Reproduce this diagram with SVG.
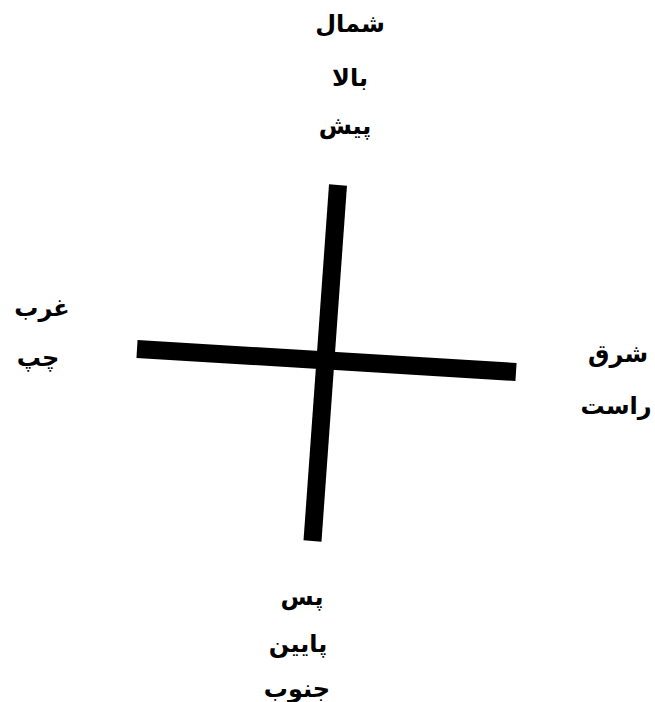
<svg xmlns="http://www.w3.org/2000/svg" width="655" height="702" viewBox="0 0 655 702">
<style>
text{font-family:"DejaVu Sans",sans-serif;font-weight:bold;font-size:24px;fill:#000;text-anchor:middle;direction:rtl}
.bar{stroke:#000;stroke-width:18;stroke-linecap:butt;fill:none}
</style>
<rect width="655" height="702" fill="#fff"/>
<g id="connectors">
<line class="bar" x1="338" y1="185" x2="312.5" y2="541"/>
<line class="bar" x1="137" y1="349" x2="516" y2="372"/>
</g>
<g id="north"><text x="350" y="32">شمال</text><text x="350" y="86">بالا</text><text x="345" y="134">پیش</text></g>
<g id="west"><text x="42" y="316">غرب</text><text x="38" y="366">چپ</text></g>
<g id="east"><text x="618" y="362">شرق</text><text x="616" y="414">راست</text></g>
<g id="south"><text x="302" y="605">پس</text><text x="298" y="652">پایین</text><text x="297" y="697">جنوب</text></g>
</svg>
